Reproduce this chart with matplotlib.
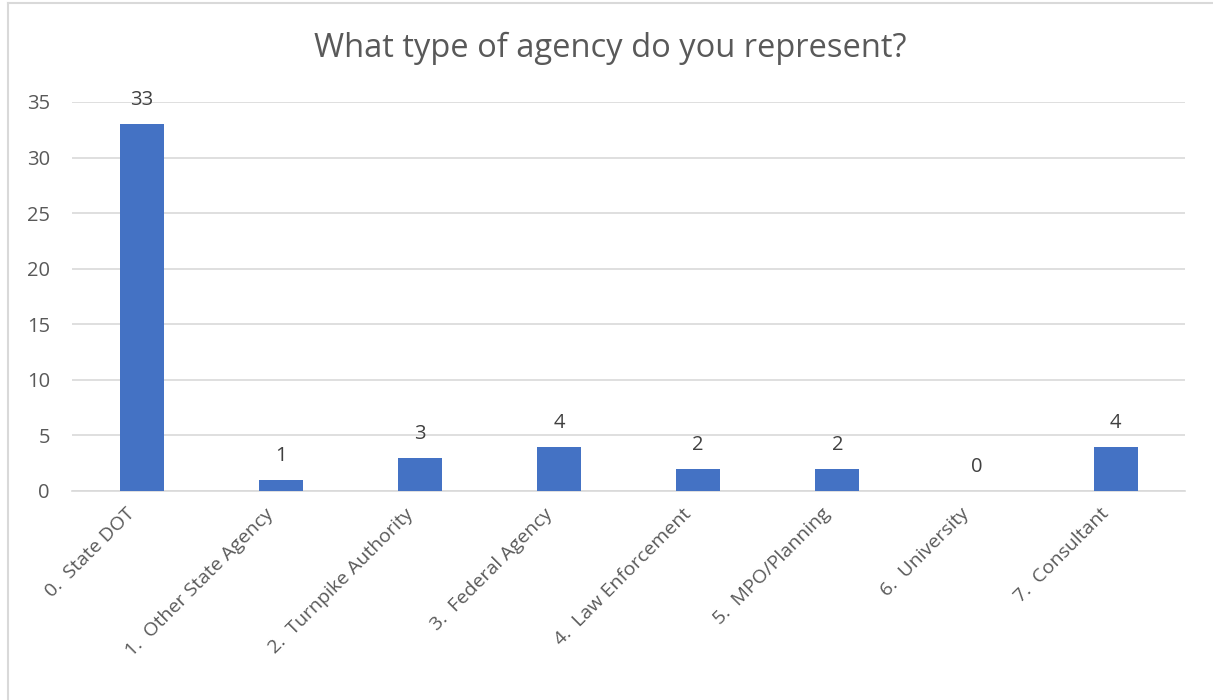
import matplotlib.pyplot as plt
import matplotlib.transforms as mtransforms
from matplotlib.lines import Line2D

#--------------- Data ---------------------
categories = ["0.  State DOT", "1.  Other State Agency", "2.  Turnpike Authority",
              "3.  Federal Agency", "4.  Law Enforcement", "5.  MPO/Planning",
              "6.  University", "7.  Consultant"]
counts = [33, 1, 3, 4, 2, 2, 0, 4]
yticks = [0, 5, 10, 15, 20, 25, 30, 35]

#--------------- Style ---------------------
plt.rcParams['font.family'] = ['Open Sans', 'DejaVu Sans']
text_color = '#595959'
bar_color = '#4472C4'
grid_color = '#D9D9D9'

fig = plt.figure(figsize=(12.13, 7), dpi=100)
ax = fig.add_axes([0.0594, 0.2986, 0.9176, 0.5557])

x = range(len(categories))
bars = ax.bar(x, counts, width=0.316, color=bar_color, zorder=3)
for xi, v in zip(x, counts):
    ax.annotate(str(v), (xi, v), xytext=(0, 10), textcoords='offset points',
                ha='center', va='bottom', fontsize=14.5, color='#404040')

ax.set_xlim(-0.5, len(categories) - 0.5)
ax.set_ylim(0, 35)
ax.set_yticks(yticks)
ax.yaxis.grid(True, color=grid_color, linewidth=1.2, zorder=0)
ax.set_axisbelow(True)
for s in ['top', 'right', 'left']:
    ax.spines[s].set_visible(False)
ax.spines['bottom'].set_color(grid_color)
ax.spines['bottom'].set_linewidth(1.2)
ax.tick_params(axis='both', length=0, labelsize=14.5, labelcolor=text_color)
ax.tick_params(axis='y', pad=16)
ax.set_xticks(list(x))
ax.set_xticklabels(categories, rotation=45, ha='right', rotation_mode='anchor', fontsize=14)
ax.tick_params(axis='x', pad=10)
shift = mtransforms.ScaledTranslation(-0.16, 0, fig.dpi_scale_trans)
for lbl in ax.get_xticklabels():
    lbl.set_transform(lbl.get_transform() + shift)

fig.text(0.503, 0.931, "What type of agency do you represent?", ha='center', va='center',
         fontsize=23.5, color=text_color)

# chart border (left and top visible)
fig.add_artist(Line2D([0.0062, 0.0062], [0, 0.9952], transform=fig.transFigure,
                      color='#D9D9D9', linewidth=1.5))
fig.add_artist(Line2D([0.0062, 1], [0.9952, 0.9952], transform=fig.transFigure,
                      color='#D9D9D9', linewidth=1.5))

fig.savefig("out.png", dpi=100)
